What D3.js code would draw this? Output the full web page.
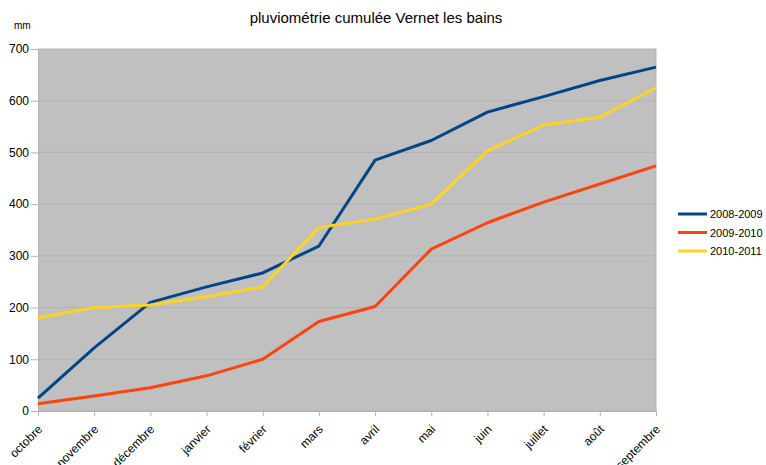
<!DOCTYPE html>
<html>
<head>
<meta charset="utf-8">
<script src="https://cdn.jsdelivr.net/npm/d3@7"></script>
<style>
  body { margin: 0; background: #fff; }
  text { font-family: "Liberation Sans", Arial, sans-serif; fill: #000; }
</style>
</head>
<body>
<div id="chart"></div>
<script>
// mois de l'année hydrologique
var months = ["octobre", "novembre", "décembre", "janvier", "février", "mars",
              "avril", "mai", "juin", "juillet", "août", "septembre"];
var seriesNames = ["2008-2009", "2009-2010", "2010-2011"];
var colors = ["#004586", "#ff420e", "#ffd320"];

// cumuls en mm
var values2008 = [25, 122, 210, 240, 267, 319, 485, 523, 578, 608, 639, 665];
var values2009 = [14, 29, 45, 68, 100, 173, 202, 313, 364, 404, 439, 474];
var values2010 = [180, 200, 205, 221, 240, 355, 371, 400, 503, 553, 568, 625];
var yTicks = [0, 100, 200, 300, 400, 500, 600, 700];

var allSeries = [values2008, values2009, values2010];

var width = 766, height = 465;
var plotLeft = 38, plotRight = 656, plotTop = 49, plotBottom = 411;

var svg = d3.select("#chart").append("svg")
    .attr("width", width).attr("height", height);

var x = d3.scalePoint().domain(months).range([plotLeft, plotRight]);
var y = d3.scaleLinear().domain([0, 700]).range([plotBottom, plotTop]);

// fond gris
svg.append("rect")
    .attr("x", plotLeft).attr("y", plotTop)
    .attr("width", plotRight - plotLeft).attr("height", plotBottom - plotTop)
    .style("fill", "#c0c0c0");

// grille horizontale
svg.append("g").selectAll("line")
    .data(yTicks)
    .enter().append("line")
    .attr("x1", plotLeft).attr("x2", plotRight)
    .attr("y1", function(d){ return y(d); })
    .attr("y2", function(d){ return y(d); })
    .style("stroke", "#b3b3b3")
    .style("stroke-width", 1);

svg.append("line")
    .attr("x1", plotRight).attr("x2", plotRight)
    .attr("y1", plotTop).attr("y2", plotBottom)
    .style("stroke", "#b3b3b3");

// axe Y
var yAxis = svg.append("g")
    .attr("transform", "translate(" + plotLeft + ",0)")
    .call(d3.axisLeft(y).tickValues(yTicks).tickSize(7).tickPadding(2));
yAxis.select(".domain").style("stroke", "#b3b3b3");
yAxis.selectAll(".tick line").style("stroke", "#b3b3b3");
yAxis.selectAll(".tick text").style("font-size", "12px")
    .style("font-family", "Liberation Sans, Arial, sans-serif").style("fill", "#000");

// axe X
var xAxis = svg.append("g")
    .attr("transform", "translate(0," + plotBottom + ")")
    .call(d3.axisBottom(x).tickSize(5).tickFormat(""));
xAxis.select(".domain").style("stroke", "#b3b3b3");
xAxis.selectAll(".tick line").style("stroke", "#b3b3b3");

svg.append("g").selectAll("text")
    .data(months)
    .enter().append("text")
    .attr("transform", function(d){ return "translate(" + (x(d) - 1) + "," + 424 + ") rotate(-45)"; })
    .attr("dy", "0.7em")
    .style("text-anchor", "end")
    .style("font-size", "12px")
    .text(function(d){ return d; });

// courbes
var line = d3.line()
    .x(function(d, i){ return x(months[i]); })
    .y(function(d){ return y(d); });

svg.append("g").selectAll("path")
    .data(allSeries)
    .enter().append("path")
    .attr("d", line)
    .style("fill", "none")
    .style("stroke", function(d, i){ return colors[i]; })
    .style("stroke-width", 3)
    .style("stroke-linejoin", "round");

// titres
svg.append("text")
    .attr("x", 376).attr("y", 23)
    .style("text-anchor", "middle")
    .style("font-size", "15px")
    .text("pluviométrie cumulée Vernet les bains");

svg.append("text")
    .attr("x", 14).attr("y", 29)
    .style("font-size", "10px")
    .text("mm");

// légende
var legend = svg.append("g").selectAll("g")
    .data(seriesNames)
    .enter().append("g")
    .attr("transform", function(d, i){ return "translate(678," + (214 + i * 18.5) + ")"; });

legend.append("line")
    .attr("x1", 0).attr("x2", 29)
    .style("stroke", function(d, i){ return colors[i]; })
    .style("stroke-width", 3);

legend.append("text")
    .attr("x", 32).attr("y", 4)
    .style("font-size", "11px")
    .text(function(d){ return d; });
</script>
</body>
</html>
